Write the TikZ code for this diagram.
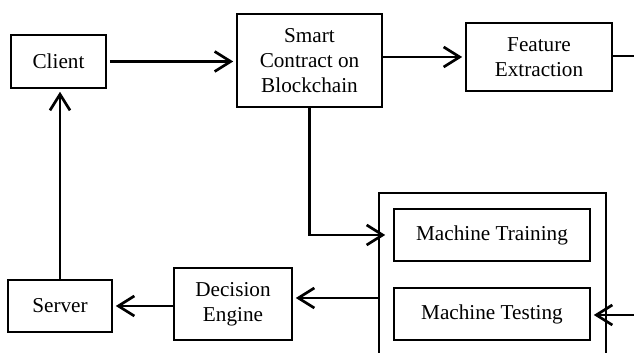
\documentclass[tikz,border=0pt]{standalone}
\usepackage{fontspec}
\setmainfont{Liberation Serif}
\usetikzlibrary{arrows.meta,positioning}
\tikzset{v/.style={draw,line width=0.8pt,align=center,inner sep=0pt,font=\fontsize{10.6}{12.3}\selectfont},arr/.style={-{Straight Barb[length=8pt,width=10pt]},line width=1.35pt,shorten >=1.5pt,shorten <=1.5pt}}
\begin{document}
\begin{tikzpicture}[x=0.5pt,y=-0.5pt]
\useasboundingbox(0,0)rectangle(634,353);
\node[v,minimum width=47.5pt,minimum height=26.5pt](Client)at(58.5,61.5){Client};
\node[v,minimum width=72.5pt,minimum height=46.5pt](SC)at(309.5,60.5){Smart\\Contract on\\Blockchain};
\node[v,minimum width=73pt,minimum height=34pt](FE)at(539,57){Feature\\Extraction};
\node[v,minimum width=113.5pt,minimum height=89pt](ML)at(492.5,282){};
\node[v,minimum width=98pt,minimum height=26pt](MT)at(492,235){Machine Training};
\node[v,minimum width=98pt,minimum height=26pt](MTest)at(492,314){Machine Testing};
\node[v,minimum width=59pt,minimum height=36pt](DE)at(233,304){Decision\\Engine};
\node[v,minimum width=52pt,minimum height=26pt](Server)at(60,306){Server};
\coordinate(fr)at(634,56);\coordinate(tr)at(634,315);\coordinate(mid)at(380,298);
\draw[arr](Client.east)--(Client.east-|SC.west);\draw[arr,shorten <=0pt](SC.east|-FE.west)--(FE.west);
\draw[line width=1pt](FE.east|-fr)--(fr);\draw[arr,shorten >=4pt,shorten <=0pt](SC.south)|-(MT.west);
\draw[arr,shorten <=0pt](ML.west|-mid)--(DE.east|-mid);\draw[arr,shorten <=0pt](DE.west|-Server.east)--(Server.east);
\draw[arr,shorten <=0pt](Server.north)--(Server.north|-Client.south);\draw[arr,shorten <=0pt](tr)--(MTest.east|-tr);
\end{tikzpicture}
\end{document}
